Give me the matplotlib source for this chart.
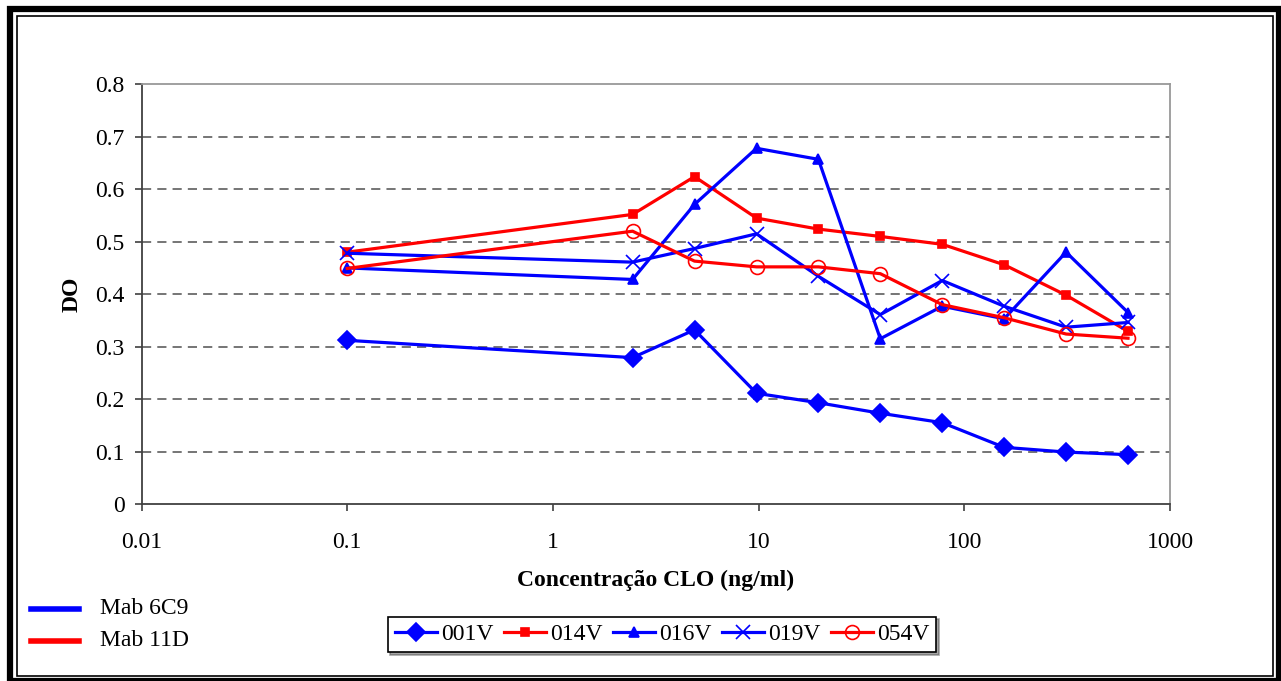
import matplotlib
matplotlib.use('Agg')
import matplotlib.pyplot as plt
from matplotlib.lines import Line2D
from matplotlib.patches import Rectangle
from matplotlib.ticker import FixedLocator, NullLocator, FuncFormatter

# CLO concentration (ng/ml) and optical density readings per sample
conc = [0.1, 2.44, 4.88, 9.77, 19.53, 39.06, 78.13, 156.25, 312.5, 625]
do_001v = [0.312, 0.279, 0.332, 0.211, 0.193, 0.173, 0.155, 0.108, 0.099, 0.094]
do_014v = [0.480, 0.552, 0.624, 0.545, 0.524, 0.510, 0.495, 0.456, 0.398, 0.329]
do_016v = [0.450, 0.428, 0.571, 0.678, 0.657, 0.315, 0.377, 0.353, 0.480, 0.365]
do_019v = [0.478, 0.461, 0.487, 0.515, 0.434, 0.361, 0.426, 0.377, 0.337, 0.346]
do_054v = [0.449, 0.520, 0.463, 0.452, 0.452, 0.439, 0.380, 0.355, 0.324, 0.316]

x_ticks = [0.01, 0.1, 1, 10, 100, 1000]
y_ticks = [0, 0.1, 0.2, 0.3, 0.4, 0.5, 0.6, 0.7, 0.8]

BLUE = '#0000FF'
RED = '#FF0000'

plt.rcParams['font.family'] = ['Liberation Serif', 'DejaVu Serif']

W, H = 1281, 681
fig = plt.figure(figsize=(W / 100, H / 100), dpi=100)


def fx(px):
    return px / W


def fy(py):
    return 1 - py / H


ax = fig.add_axes([fx(141.5), fy(504), fx(1170) - fx(141.5), fy(84.3) - fy(504)])

# series: (label, values, colour, marker, size, filled)
series = [
    ('001V', do_001v, BLUE, 'D', 9.5, True),
    ('014V', do_014v, RED, 's', 6, True),
    ('016V', do_016v, BLUE, '^', 7.5, True),
    ('019V', do_019v, BLUE, 'x', 10, True),
    ('054V', do_054v, RED, 'o', 10, False),
]

for label, vals, col, mk, ms, filled in series:
    ax.plot(conc, vals, color=col, lw=2.3, marker=mk, markersize=ms,
            markerfacecolor=col if filled else 'none', markeredgecolor=col,
            markeredgewidth=1.2, label=label, zorder=3)

ax.set_xscale('log')
ax.set_xlim(0.01, 1000)
ax.set_ylim(0, 0.8)
ax.xaxis.set_major_locator(FixedLocator(x_ticks))
ax.xaxis.set_minor_locator(NullLocator())
ax.xaxis.set_major_formatter(FuncFormatter(lambda v, p: f'{v:g}'))
ax.set_yticks(y_ticks)
ax.yaxis.set_major_formatter(FuncFormatter(lambda v, p: f'{v:g}'))

# dashed horizontal grid
for yv in y_ticks[1:-1]:
    ax.axhline(yv, color='#505050', lw=1.1, ls=(0, (6, 4)), zorder=1)

ax.spines['left'].set_color('#404040')
ax.spines['bottom'].set_color('#404040')
ax.spines['top'].set_color('#999999')
ax.spines['right'].set_color('#999999')
for s in ax.spines.values():
    s.set_linewidth(1.3)

ax.tick_params(axis='both', direction='out', length=5, width=1.2, color='#404040',
               labelsize=17)
ax.tick_params(axis='x', pad=15)
ax.tick_params(axis='y', pad=7)

ax.set_xlabel('Concentração CLO (ng/ml)', fontsize=17, fontweight='bold', labelpad=12)
ax.set_ylabel('DO', fontsize=17, fontweight='bold', labelpad=9)

# series legend below the axis
leg = fig.legend(loc='center', bbox_to_anchor=(fx(662), fy(634.5)), ncol=5,
                 fontsize=17, frameon=True, fancybox=False, shadow=True,
                 handlelength=1.8, handletextpad=0.15, columnspacing=0.45,
                 borderpad=0.3, borderaxespad=0)
leg.get_frame().set_edgecolor('black')
leg.get_frame().set_linewidth(1.2)

# antibody colour key at the lower left
fig.add_artist(Line2D([fx(31), fx(79)], [fy(609), fy(609)], color=BLUE, lw=4,
                      transform=fig.transFigure))
fig.add_artist(Line2D([fx(31), fx(79)], [fy(641), fy(641)], color=RED, lw=4,
                      transform=fig.transFigure))
fig.text(fx(100), fy(609), 'Mab 6C9', fontsize=17, va='center', ha='left')
fig.text(fx(100), fy(641), 'Mab 11D', fontsize=17, va='center', ha='left')

# double border around the whole chart
fig.add_artist(Rectangle((fx(10), fy(681)), fx(1279) - fx(10), fy(9) - fy(681),
                         fill=False, ec='black', lw=4.5, transform=fig.transFigure))
fig.add_artist(Rectangle((fx(16.5), fy(676)), fx(1273) - fx(16.5), fy(16) - fy(676),
                         fill=False, ec='black', lw=1.2, transform=fig.transFigure))

fig.savefig('out.png', dpi=100)
